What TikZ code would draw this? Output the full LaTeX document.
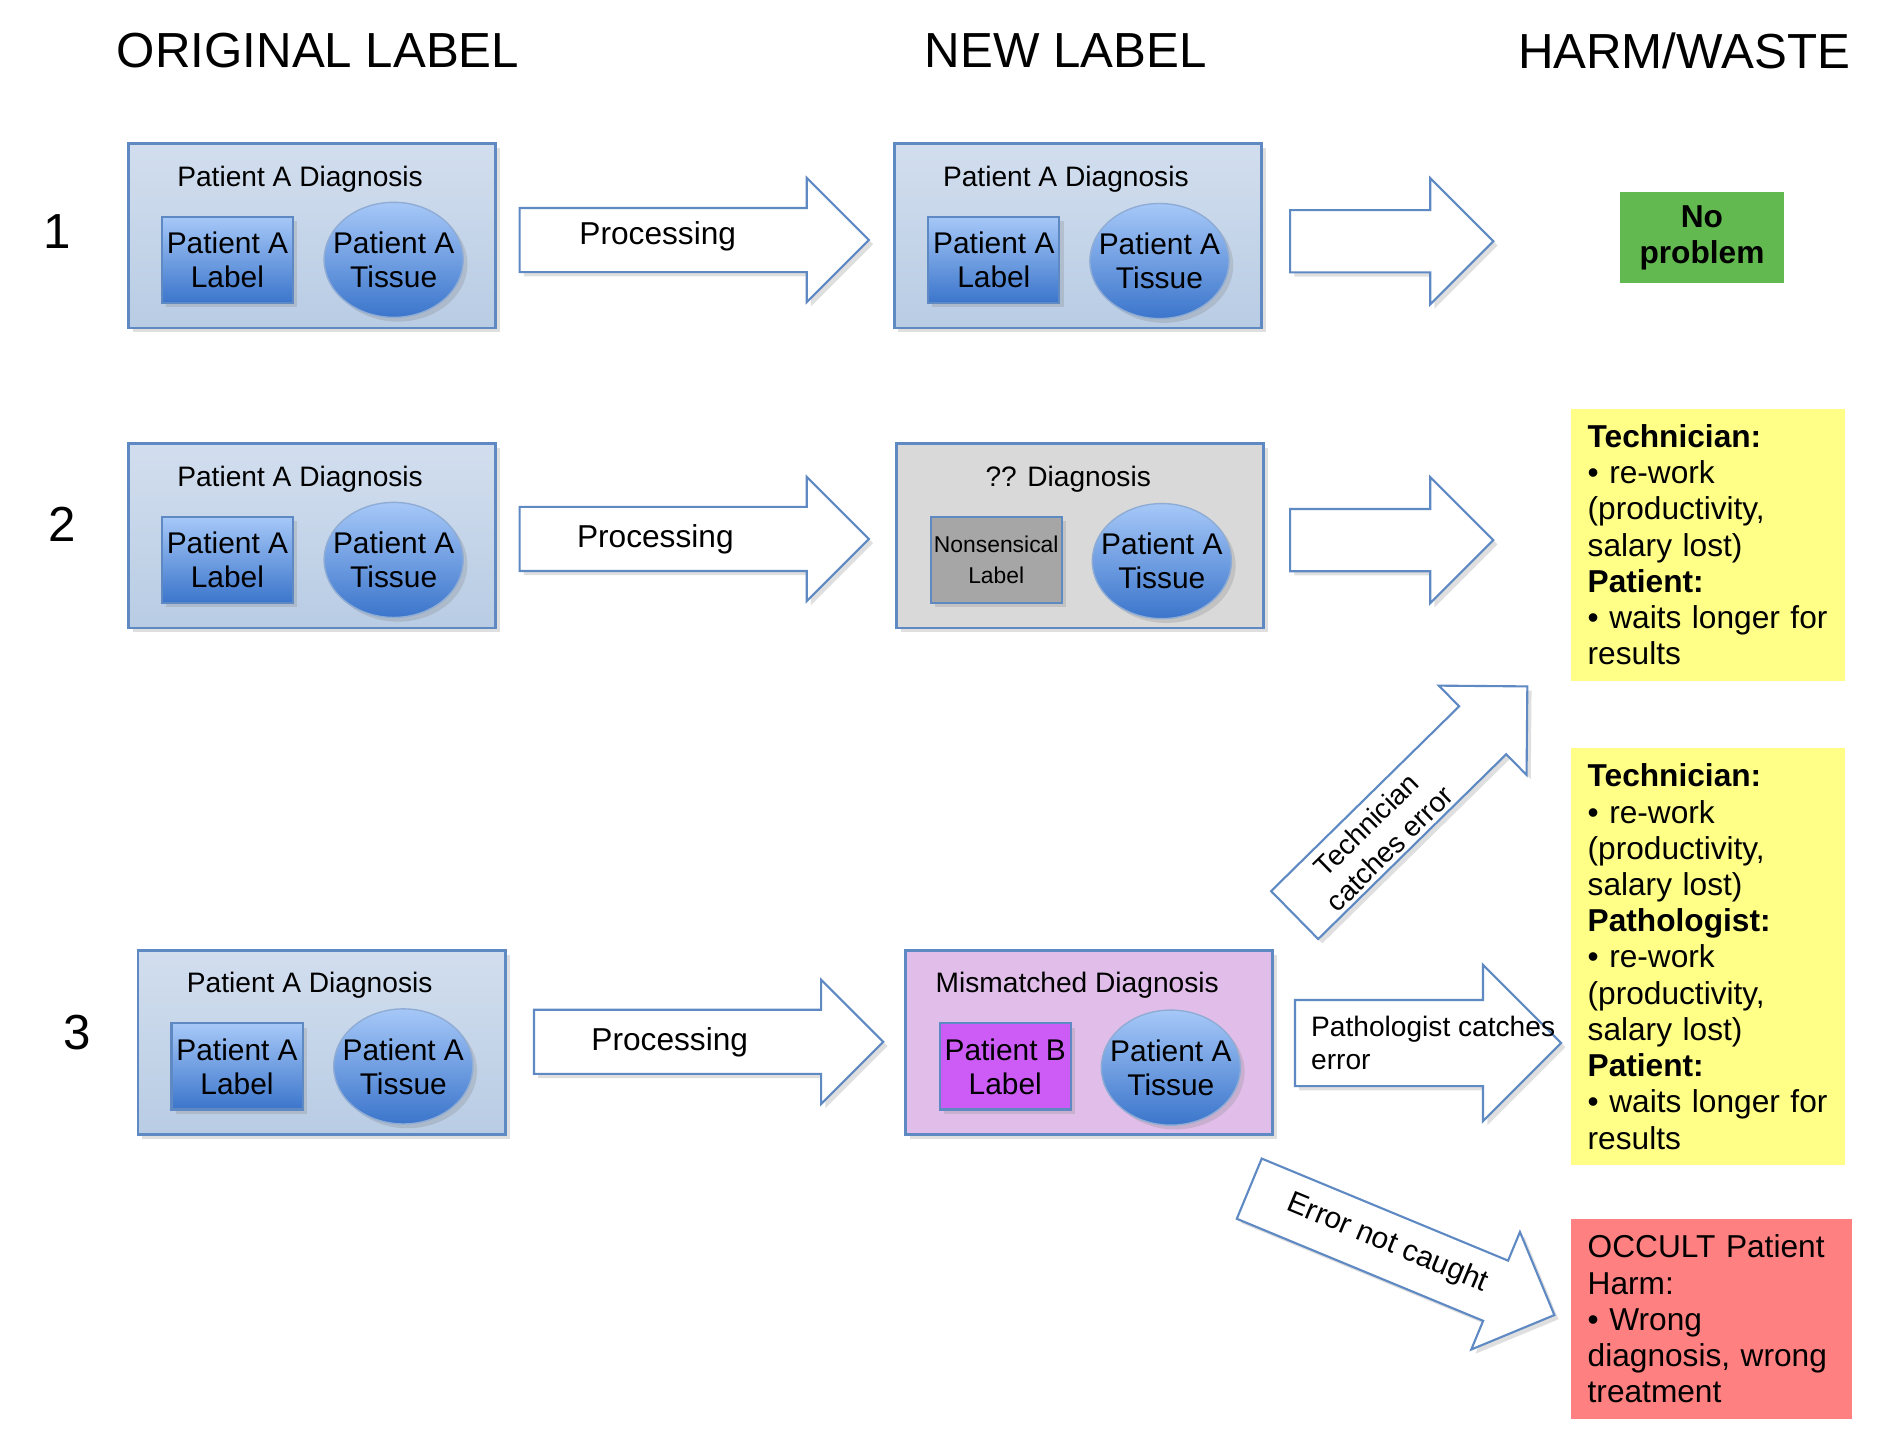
\documentclass[tikz,border=0pt]{standalone}
\usepackage{fontspec}
\setmainfont{Liberation Sans}
\usetikzlibrary{shapes.geometric,shapes.arrows,shadows}

\definecolor{frameblue}{HTML}{5F89C3}
\definecolor{boxtop}{HTML}{D2DEEE}
\definecolor{boxbottom}{HTML}{B8CCE4}
\definecolor{shapetop}{HTML}{A6C8F8}
\definecolor{shapebottom}{HTML}{3B75CB}
\definecolor{greybox}{HTML}{D9D9D9}
\definecolor{greylabel}{HTML}{A6A6A6}
\definecolor{mauvebox}{HTML}{E1BEEA}
\definecolor{pinklabel}{HTML}{CC5CF5}
\definecolor{okgreen}{HTML}{62B94F}
\definecolor{wasteyellow}{HTML}{FFFF88}
\definecolor{harmred}{HTML}{FF8080}

\begin{document}
\begin{tikzpicture}[x=0.012cm,y=-0.012cm]
    \tikzstyle{soft}=[drop shadow={opacity=0.25,shadow xshift=1.2pt,shadow yshift=-1.2pt}]
    \tikzstyle{diagbox}=[rectangle,draw=frameblue,line width=0.8pt,minimum width=3.67cm,minimum height=1.84cm,soft]
    \tikzstyle{origbox}=[top color=boxtop,bottom color=boxbottom]
    \tikzstyle{unknownbox}=[fill=greybox]
    \tikzstyle{mixbox}=[fill=mauvebox]
    \tikzstyle{labelbox}=[rectangle,draw=frameblue,line width=0.6pt,minimum width=1.31cm,minimum height=0.86cm,inner sep=0pt,align=center,font=\fontsize{8.5}{9.6}\selectfont,soft]
    \tikzstyle{origlabel}=[top color=shapetop,bottom color=shapebottom]
    \tikzstyle{oddlabel}=[fill=greylabel,font=\fontsize{6.5}{9}\selectfont]
    \tikzstyle{wronglabel}=[fill=pinklabel]
    \tikzstyle{tissue}=[ellipse,draw=frameblue!70,line width=0.4pt,top color=shapetop,bottom color=shapebottom,minimum width=1.39cm,minimum height=1.15cm,inner xsep=-0.12cm,inner ysep=0pt,align=center,font=\fontsize{8.5}{9.6}\selectfont,soft]
    \tikzstyle{boxtitle}=[font=\fontsize{8}{9}\selectfont]
    \tikzstyle{header}=[font=\fontsize{14}{16}\selectfont]
    \tikzstyle{blockarrow}=[single arrow,draw=frameblue,line width=0.6pt,fill=white,anchor=tail,inner xsep=0pt,single arrow tip angle=90,soft]
    \tikzstyle{harm}=[rectangle,anchor=north west,inner xsep=0.17cm,align=left,font=\fontsize{9}{10.3}\selectfont]

    \useasboundingbox (0,0) rectangle (1568,1193);

    % column headers and row numbers
    \node[header] (H-orig) at (265,42) {ORIGINAL LABEL};
    \node[header] (H-new) at (888,42) {NEW LABEL};
    \node[header] (H-harm) at (1403,42) {HARM/WASTE};
    \foreach \num/\x/\y in {1/48/193, 2/52/437, 3/64/860}
        \node[header] (N-\num) at (\x,\y) {\num};

    % original labels
    \foreach \num/\x/\y in {1/260/196.5, 2/260/446.5, 3/268/868.5}{
        \node[diagbox,origbox] (O-\num) at (\x,\y) {};
        \node[boxtitle] (OT-\num) at (\x-10,\y-47.5) {Patient A Diagnosis};
        \node[labelbox,origlabel] (OL-\num) at (\x-70.5,\y+20) {Patient A\\Label};
        \node[tissue] (OS-\num) at (\x+68,\y+20) {Patient A\\Tissue};
    }

    % new labels
    \foreach \num/\x/\y/\bstyle/\lstyle/\ttl/\lab in {1/898/196.5/origbox/origlabel/{Patient A Diagnosis}/{Patient A\\Label},
            2/900/446.5/unknownbox/oddlabel/{?? Diagnosis}/{Nonsensical\\Label},
            3/907.5/868.5/mixbox/wronglabel/{Mismatched Diagnosis}/{Patient B\\Label}}{
        \node[diagbox,\bstyle] (B-\num) at (\x,\y) {};
        \node[boxtitle] (BT-\num) at (\x-10,\y-47.5) {\ttl};
        \node[labelbox,\lstyle] (BL-\num) at (\x-70,\y+20) {\lab};
        \node[tissue] (BS-\num) at (\x+68,\y+21) {Patient A\\Tissue};
    }

    % processing arrows
    \foreach \num/\x/\y in {1/432/200, 2/432/449, 3/444/868}
        \node[blockarrow,minimum height=3.49cm,inner ysep=0.31cm,single arrow head extend=0.3cm] (P-\num) at (\x,\y) {};
    \foreach \num/\x/\y in {1/548/197, 2/546/449, 3/558/868}
        \node[font=\fontsize{9}{10}\selectfont] (PT-\num) at (\x,\y) {Processing};

    % outcome arrows
    \foreach \num/\y in {1/201, 2/450}
        \node[blockarrow,minimum height=2.03cm,inner ysep=0.3cm,single arrow head extend=0.32cm] (E-\num) at (1074,\y) {};
    \node[blockarrow,minimum height=2.66cm,inner ysep=0.42cm,single arrow head extend=0.35cm] (A-path) at (1078,869) {};
    \node[blockarrow,rotate=44.5,minimum height=3.26cm,inner ysep=0.325cm,single arrow head extend=0.29cm] (A-tech) at (1078,763) {};
    \node[blockarrow,rotate=-22.5,minimum height=3.3cm,inner ysep=0.315cm,single arrow head extend=0.31cm] (A-miss) at (1040,990) {};

    \node[font=\fontsize{8}{9.2}\selectfont,align=left,anchor=west] (PC) at (1082,869) {Pathologist catches\\error};
    \node[rotate=44.5,align=center,font=\fontsize{8}{9.4}\selectfont] (TC) at (1148,697) {Technician\\catches error};
    \node[rotate=-22.5,font=\fontsize{8.5}{10}\selectfont] (NC) at (1156,1036) {Error not caught};

    % harm / waste
    \node[rectangle,fill=okgreen,minimum width=1.64cm,minimum height=0.91cm,align=center,font=\fontsize{9}{10.3}\selectfont\bfseries] (W-1) at (1418,198) {No\\problem};
    \node[harm,fill=wasteyellow,text width=2.4cm,minimum height=2.72cm] (W-2) at (1308,340)
        {\textbf{Technician:}\\• re-work\\(productivity,\\salary lost)\\\textbf{Patient:}\\• waits longer for\\results};
    \node[harm,fill=wasteyellow,text width=2.4cm,minimum height=4.16cm] (W-3) at (1308,623)
        {\textbf{Technician:}\\• re-work\\(productivity,\\salary lost)\\\textbf{Pathologist:}\\• re-work\\(productivity,\\salary lost)\\\textbf{Patient:}\\• waits longer for\\results};
    \node[harm,fill=harmred,text width=2.47cm,minimum height=2.0cm] (W-4) at (1308,1015)
        {OCCULT Patient\\Harm:\\• Wrong\\diagnosis, wrong\\treatment};
\end{tikzpicture}
\end{document}
